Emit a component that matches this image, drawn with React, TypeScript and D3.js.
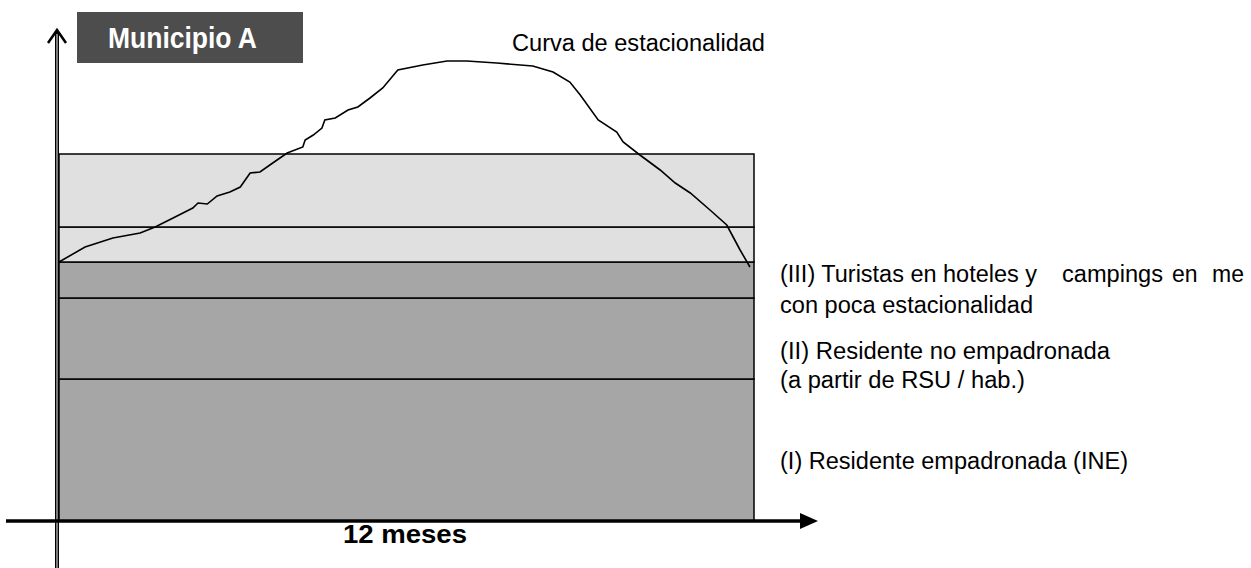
import React from "react";
import * as d3 from "d3";

// seasonal curve (month, population index)
const curveMonths = [
  0, 0.45, 0.93, 1.4, 1.66, 1.97, 2.31, 2.4, 2.56, 2.73, 2.95, 3.13, 3.3, 3.47, 3.69, 3.94,
  4.21, 4.25, 4.39, 4.54, 4.59, 4.77, 4.99, 5.16, 5.37, 5.59, 5.85, 6.28, 6.7, 7.04, 7.56,
  8.18, 8.53, 8.82, 9.0, 9.31, 9.63, 9.74, 10.03, 10.38, 10.64, 10.9, 11.24, 11.53, 11.64,
  11.76, 11.93,
];
const curveValues = [
  51.8, 54.8, 56.6, 57.6, 58.8, 60.6, 62.6, 63.6, 63.4, 65.0, 65.8, 66.8, 69.6, 69.8, 71.6,
  73.6, 74.8, 76.2, 77.2, 78.6, 80.2, 80.6, 82.2, 82.8, 84.6, 86.6, 90.2, 91.2, 92.0, 92.0,
  91.6, 91.0, 89.8, 87.8, 85.2, 80.2, 77.8, 75.8, 73.2, 70.2, 67.6, 65.6, 62.2, 59.2, 56.8,
  54.2, 50.8,
];

// stacked population layers (upper bound of each)
const bandTops = [28.4, 44.6, 51.8, 58.8, 73.4];
const bandFills = ["#a6a6a6", "#a6a6a6", "#a6a6a6", "#e0e0e0", "#e0e0e0"];

const title = "Municipio A";
const curveLabel = "Curva de estacionalidad";
const xLabel = "12 meses";

const W = 1251;
const H = 568;
const font = "'Liberation Sans', Arial, sans-serif";

export default function App() {
  const x = d3.scaleLinear().domain([0, 12]).range([59, 754]);
  const y = d3.scaleLinear().domain([0, 100]).range([521, 21]);

  const pts: [number, number][] = curveMonths.map((m, i) => [m, curveValues[i]]);
  const line = d3
    .line<[number, number]>()
    .x((d) => x(d[0]))
    .y((d) => y(d[1]));

  const bands = bandTops.map((top, i) => ({
    lo: i === 0 ? 0 : bandTops[i - 1],
    hi: top,
    fill: bandFills[i],
  }));

  const labelStyle = {
    fontFamily: font,
    fontSize: 23,
    fill: "#000",
    lengthAdjust: "spacingAndGlyphs",
  } as const;

  return (
    <svg
      width={W}
      height={H}
      style={{ position: "absolute", left: 0, top: 0, background: "#fff" }}
    >
      {/* stacked bands */}
      {bands.map((b, i) => (
        <rect
          key={i}
          x={x(0)}
          y={y(b.hi)}
          width={x(12) - x(0)}
          height={y(b.lo) - y(b.hi)}
          fill={b.fill}
          stroke="#000"
          strokeWidth={1.5}
        />
      ))}

      {/* seasonal curve */}
      <path d={line(pts) || ""} fill="none" stroke="#000" strokeWidth={1.6} />

      {/* y axis (double line) */}
      <line x1={57} x2={57} y1={31} y2={H} stroke="#000" strokeWidth={4} />
      <line x1={57} x2={57} y1={34} y2={H} stroke="#b0b0b0" strokeWidth={1.4} />
      <polyline
        points="48,43 57,30 66,43"
        fill="none"
        stroke="#000"
        strokeWidth={2.5}
      />

      {/* x axis */}
      <line x1={6} x2={804} y1={y(0)} y2={y(0)} stroke="#000" strokeWidth={3.5} />
      <polygon
        points={`800,${y(0) - 8} 818,${y(0)} 800,${y(0) + 8}`}
        fill="#000"
      />

      {/* title box */}
      <rect x={77} y={12} width={226} height={51} fill="#4d4d4d" />
      <text
        x={108}
        y={48}
        fill="#fff"
        fontFamily={font}
        fontSize={29}
        fontWeight="bold"
        textLength={149}
        lengthAdjust="spacingAndGlyphs"
      >
        {title}
      </text>

      <text
        x={512}
        y={51}
        fontFamily={font}
        fontSize={23}
        textLength={253}
        lengthAdjust="spacingAndGlyphs"
      >
        {curveLabel}
      </text>

      <text
        x={343}
        y={543}
        fontFamily={font}
        fontSize={25}
        fontWeight="bold"
        textLength={124}
        lengthAdjust="spacingAndGlyphs"
      >
        {xLabel}
      </text>

      {/* layer labels */}
      <text {...labelStyle} x={780} y={282} textLength={257}>
        (III) Turistas en hoteles y
      </text>
      <text {...labelStyle} x={1062} y={282} textLength={101}>
        campings
      </text>
      <text {...labelStyle} x={1172} y={282}>
        en
      </text>
      <text {...labelStyle} x={1212} y={282}>
        me
      </text>
      <text {...labelStyle} x={780} y={313} textLength={253}>
        con poca estacionalidad
      </text>
      <text {...labelStyle} x={780} y={359} textLength={330}>
        (II) Residente no empadronada
      </text>
      <text {...labelStyle} x={780} y={388} textLength={245}>
        (a partir de RSU / hab.)
      </text>
      <text {...labelStyle} x={780} y={469} textLength={348}>
        (I) Residente empadronada (INE)
      </text>
    </svg>
  );
}
